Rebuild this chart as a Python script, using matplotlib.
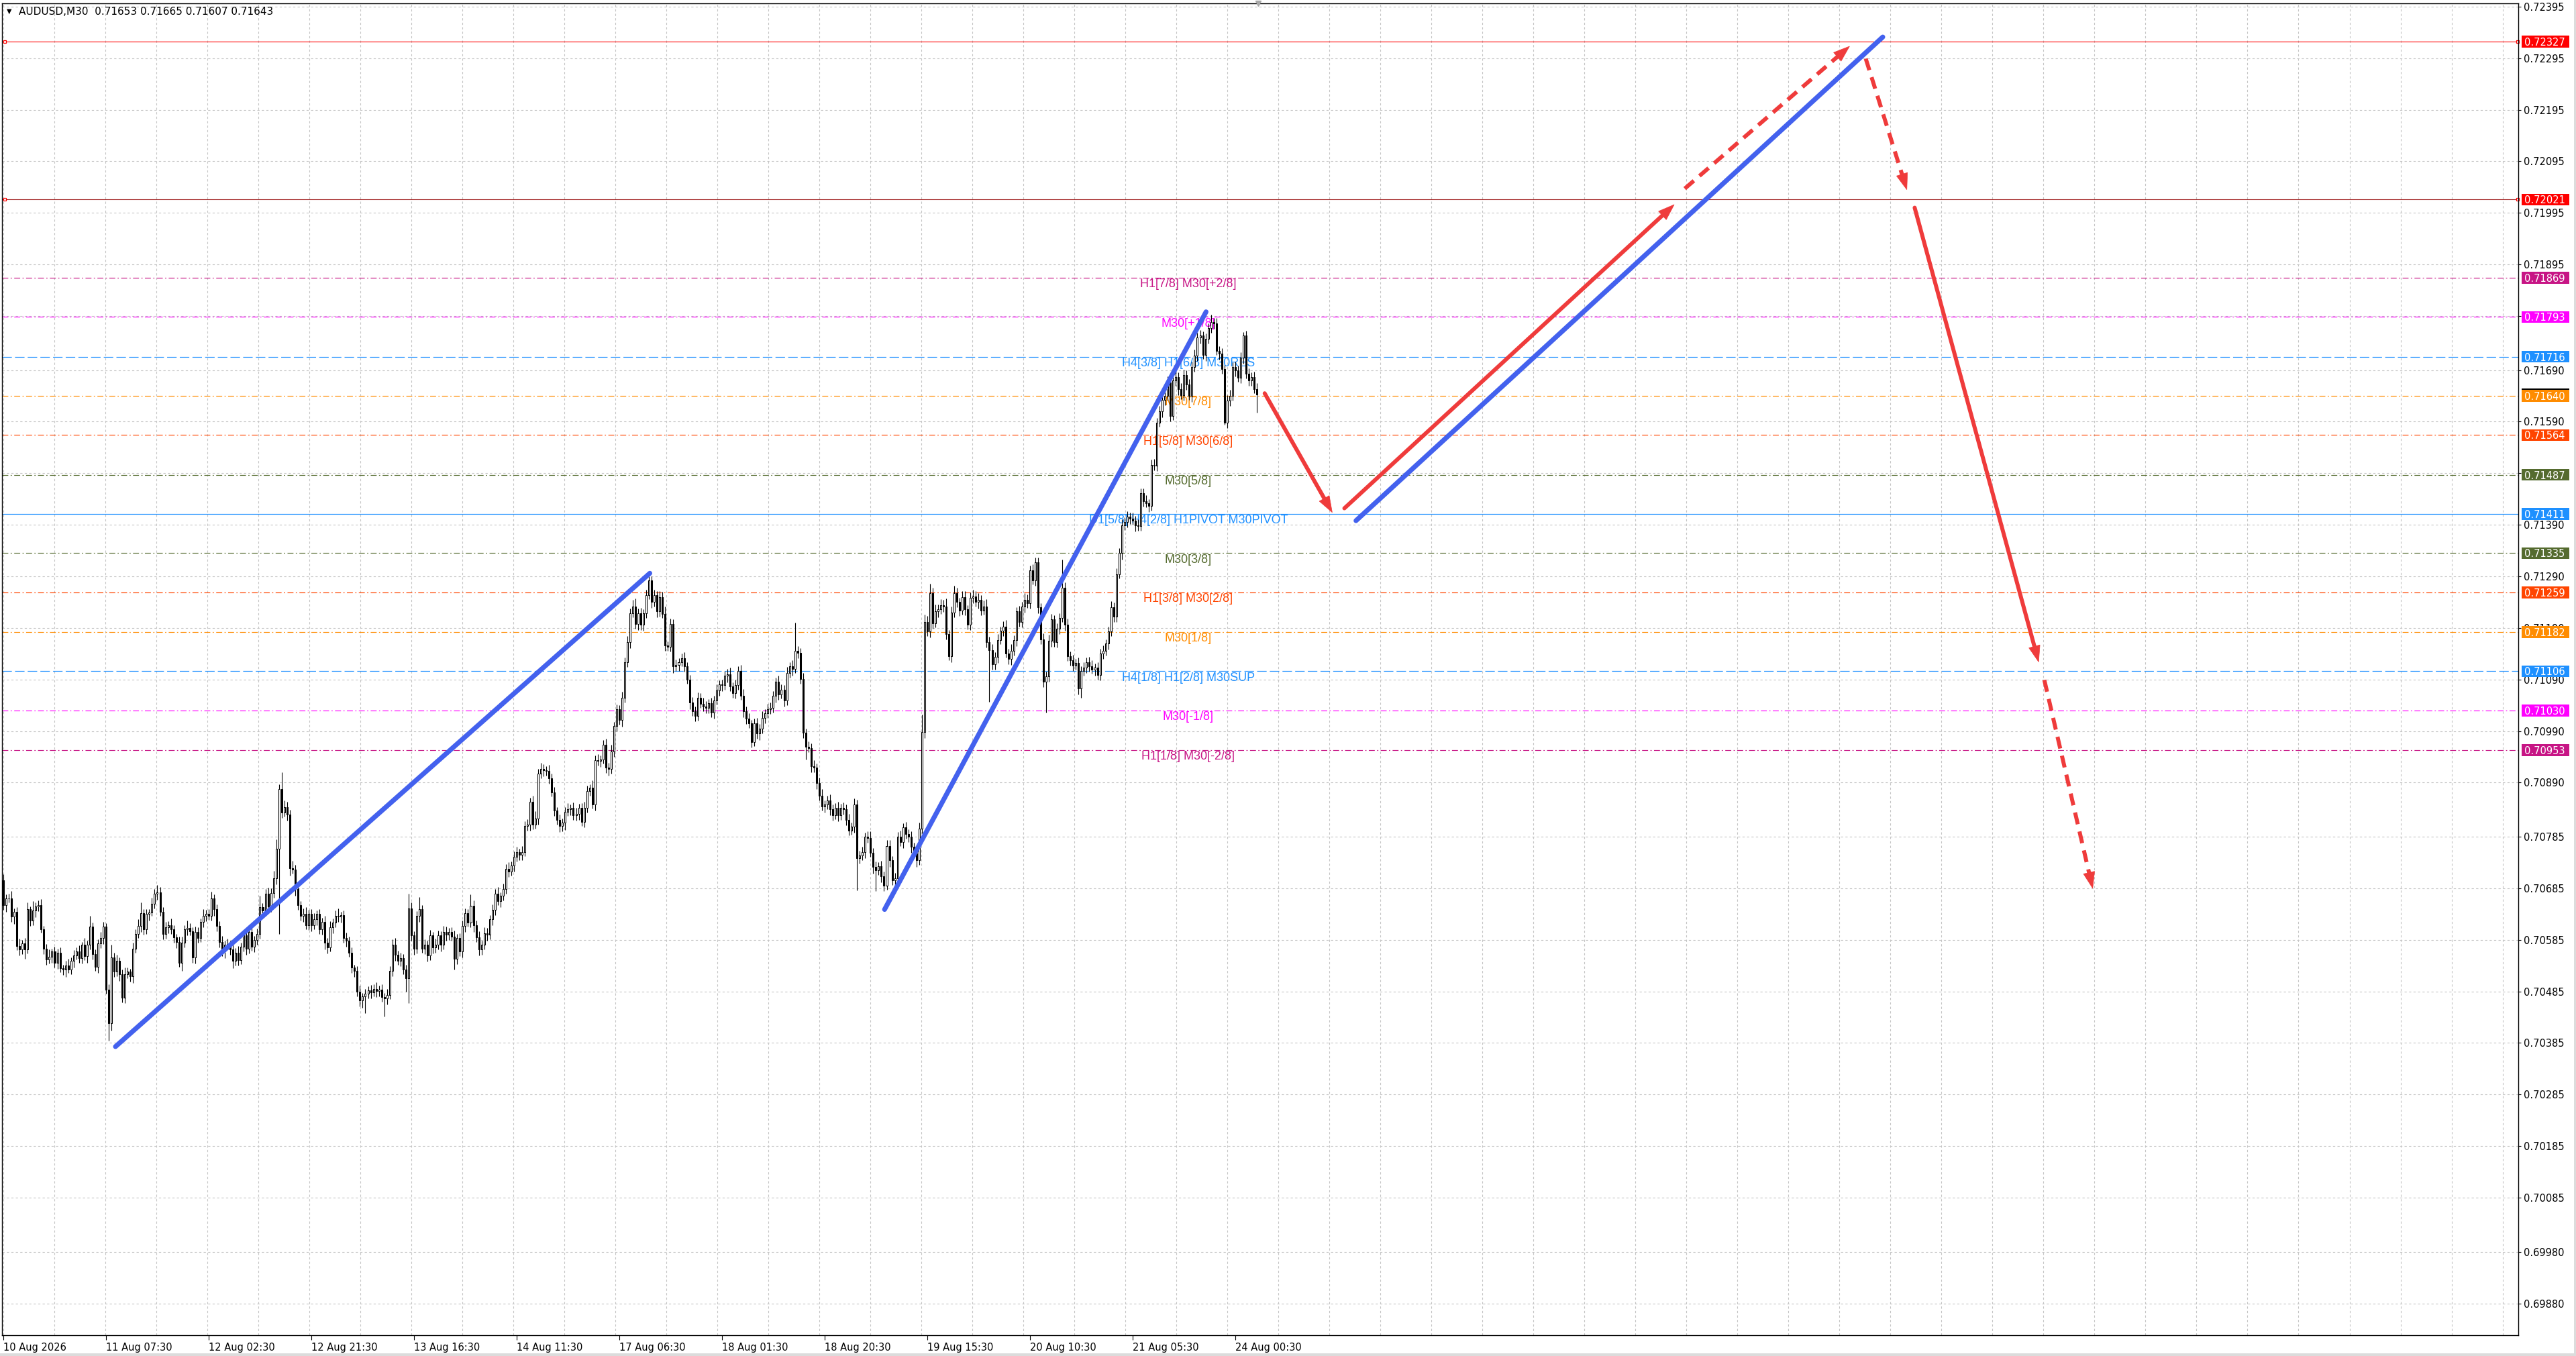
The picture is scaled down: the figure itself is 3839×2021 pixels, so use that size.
import numpy as np
import matplotlib
matplotlib.use("Agg")
import matplotlib.pyplot as plt
import matplotlib.transforms as mtransforms
from matplotlib.patches import Rectangle, Polygon

# ---------------- data ----------------
symbol_title = "AUDUSD,M30  0.71653 0.71665 0.71607 0.71643"
base_price = 0.70000
point = 0.00001
first_open_pts = 700

close_pts = [
    652, 665, 665, 630, 640, 573, 566, 578, 566, 644,
    622, 642, 650, 652, 605, 568, 547, 552, 562, 540,
    560, 530, 527, 535, 528, 544, 555, 562, 550, 575,
    553, 575, 611, 557, 533, 578, 588, 611, 488, 423,
    551, 523, 544, 518, 473, 518, 523, 514, 568, 597,
    612, 637, 605, 635, 638, 655, 674, 677, 640, 596,
    609, 614, 605, 590, 581, 540, 579, 605, 608, 602,
    551, 600, 588, 620, 631, 635, 632, 666, 644, 612,
    581, 562, 575, 577, 566, 544, 560, 546, 572, 594,
    568, 600, 572, 585, 596, 648, 642, 674, 650, 676,
    705, 762, 878, 832, 843, 828, 724, 722, 683, 653,
    631, 636, 614, 635, 614, 625, 635, 605, 620, 580,
    571, 609, 618, 632, 630, 633, 588, 583, 560, 531,
    525, 484, 467, 475, 480, 487, 483, 490, 486, 489,
    474, 471, 478, 525, 575, 556, 545, 550, 527, 510,
    646, 594, 568, 631, 644, 568, 575, 555, 594, 570,
    575, 594, 575, 601, 595, 601, 591, 548, 588, 562,
    612, 637, 619, 651, 614, 590, 566,
    575, 598, 595, 625, 643, 675, 660, 670, 684, 723,
    718, 729, 746, 755, 750, 755, 806, 809, 853, 809,
    820, 907, 916, 914, 912, 898, 871, 836, 818, 806,
    812, 833, 838, 841, 827, 830, 841, 814, 841, 874,
    880, 848, 934, 932, 935, 963, 919, 916, 951, 1000,
    1032, 1011, 1055, 1124, 1162, 1219, 1231, 1198, 1218, 1196,
    1218, 1254, 1282, 1240, 1253, 1222, 1250, 1217, 1156, 1154,
    1198, 1115, 1118, 1124, 1131, 1115, 1090, 1045, 1029, 1020,
    1055, 1043, 1038, 1035, 1044, 1026, 1049, 1069, 1080, 1079,
    1097, 1100, 1076, 1064, 1079, 1106, 1058, 1029, 1014, 1005,
    969, 1005, 985, 995, 1016, 1024, 1033, 1035, 1058, 1086,
    1061, 1070, 1049, 1103, 1115, 1110, 1145, 1142, 1091, 987,
    960, 957, 922, 919, 889, 865, 844, 847, 856, 838,
    827, 841, 827, 841, 838, 818, 797, 805, 847, 743,
    749, 755, 785, 783,
    754, 726, 720, 728, 708, 690, 767, 739, 700, 705,
    785, 775, 803, 790, 785, 765, 752, 739, 801, 988,
    1201, 1183, 1258, 1199, 1222, 1226, 1234, 1232, 1178, 1135,
    1220, 1258, 1240, 1224, 1250, 1226, 1196, 1249, 1251, 1240,
    1245, 1224, 1232, 1163, 1147, 1119, 1134, 1167, 1185, 1193,
    1140, 1130, 1145, 1166, 1222, 1201, 1232, 1245, 1238, 1302,
    1282, 1317, 1230, 1168, 1086, 1096, 1165, 1207, 1163, 1188,
    1209, 1268, 1196, 1135, 1127, 1117, 1122, 1073, 1106, 1113,
    1124, 1115, 1109, 1113, 1099, 1140, 1145, 1160, 1183, 1230,
    1212, 1294, 1335, 1389, 1395,
    1406, 1402, 1398, 1389, 1388, 1451, 1436, 1432, 1427, 1506,
    1505, 1588, 1610, 1632, 1640, 1666, 1601, 1670, 1677, 1653,
    1642, 1681, 1662, 1640, 1696, 1718, 1753, 1757, 1720, 1751,
    1772, 1783, 1781, 1727, 1722, 1692, 1588, 1631, 1640, 1696,
    1690, 1675, 1714, 1757, 1683, 1670, 1677, 1653, 1643,
]

upper_wick_pts = [
    12, 8, 10, 15, 6, 9, 14, 7, 11, 13, 6, 18, 8, 10, 12, 7, 9, 14, 6, 10,
    8, 11, 6, 9, 13, 7, 10, 8, 12, 6, 14, 9, 20, 7, 10, 8, 13, 9, 6, 11,
    25, 9, 12, 7, 10, 14, 8, 6, 11, 9, 13, 20, 8, 10, 7, 12, 9, 15, 10, 8,
    11, 7, 13, 9, 6, 10, 12, 8, 14, 9, 7, 11, 10, 6, 13, 8, 9, 12, 7, 10,
    9, 12, 8, 10, 7, 11, 9, 13, 8, 10, 6, 12, 9, 7, 11, 22, 8, 10, 12, 9,
    14, 18, 8, 32, 12, 10, 9, 14, 8, 11, 7, 10, 13, 8, 9, 12, 7, 10, 8, 11,
    9, 12, 8, 10, 14, 7, 9, 11, 8, 10, 6, 9, 12, 7, 10, 8, 11, 9, 13, 7,
    10, 8, 12, 9, 11, 14, 8, 10, 7, 9, 28, 12, 8, 10, 24, 9, 11, 8, 10, 7,
    12, 9, 8, 11, 10, 7, 9, 12, 8, 10, 11, 9, 7, 22, 10, 8, 12, 9, 11, 10,
    8, 11, 9, 12, 7, 10, 9, 13, 8, 11, 10, 7, 12, 9, 10, 8, 11, 14, 9, 12,
    10, 8, 12, 9, 11, 7, 10, 8, 9, 12, 7, 10, 11, 8, 9, 12, 10, 7, 14, 9,
    11, 8, 10, 12, 9, 13, 7, 10, 8, 11, 9, 12, 8, 14, 16, 9, 11, 8, 10, 12,
    8, 11, 9, 12, 10, 14, 8, 10, 9, 11, 7, 10, 12, 8, 9, 11, 8, 10, 9, 12,
    10, 8, 11, 9, 12, 8, 10, 9, 11, 13, 8, 10, 9, 12, 14, 8, 10, 7, 9, 11,
    9, 12, 8, 10, 11, 9, 8, 12, 10, 9, 11, 8, 13, 55, 10, 9, 11, 8, 10, 9,
    11, 8, 10, 12, 9, 8, 11, 10, 9, 12, 8, 10, 9, 11, 8, 12, 10, 9, 11, 8,
    10, 12, 9, 11, 8, 10, 9, 12, 11, 8, 10, 9, 12, 8, 11, 9, 10, 8, 12, 12,
    34, 15, 12, 18, 10, 14, 9, 12, 11, 15, 8, 12, 14, 10, 9, 12, 11, 8, 10, 13,
    10, 12, 9, 11, 14, 10, 12, 9, 11, 8, 10, 12, 9, 13, 10, 8, 11, 9, 12, 10,
    9, 12, 10, 10, 8, 11, 9, 12, 10, 8, 11, 9, 54, 10, 12, 9, 11, 8, 10, 9,
    11, 9, 10, 12, 8, 10, 9, 11, 8, 10, 12, 9, 11, 10, 12, 9, 10, 8, 11, 9,
    12, 10, 9, 11, 8, 10, 12, 9, 11, 10, 8, 12, 9, 11, 10, 8, 12, 10, 9, 11,
    10, 12, 9, 11, 8, 10, 9, 15, 8, 10, 9, 11, 8, 10, 12, 9, 11, 8, 10, 7,
    9, 11, 8, 10, 12,
]

lower_wick_pts = [
    9, 12, 7, 10, 14, 8, 11, 9, 18, 7, 10, 8, 13, 9, 6, 11, 10, 8, 12, 9,
    11, 8, 10, 14, 7, 9, 12, 8, 10, 11, 7, 13, 9, 10, 8, 12, 9, 11, 8, 34,
    14, 10, 8, 12, 9, 11, 7, 10, 13, 8, 9, 11, 10, 8, 12, 7, 9, 11, 8, 10,
    9, 11, 8, 10, 12, 7, 15, 9, 11, 8, 10, 12, 9, 7, 11, 10, 8, 9, 12, 10,
    11, 9, 12, 8, 10, 14, 9, 11, 8, 10, 12, 9, 8, 11, 10, 9, 12, 8, 10, 11,
    9, 12, 166, 10, 8, 11, 14, 9, 12, 10, 8, 11, 9, 10, 12, 8, 11, 9, 10, 14,
    12, 9, 11, 8, 10, 12, 9, 11, 8, 10, 12, 9, 11, 14, 32, 9, 11, 8, 12, 10,
    9, 35, 11, 8, 10, 12, 9, 11, 8, 26, 48, 10, 12, 9, 11, 8, 10, 12, 9, 11,
    10, 8, 12, 9, 11, 10, 8, 21, 10, 9, 11, 12, 8, 10, 14, 9, 11, 10, 8, 12,
    9, 11, 10, 8, 12, 9, 10, 11, 8, 12, 9, 10, 11, 8, 9, 12, 10, 8, 11, 9,
    12, 9, 10, 8, 11, 9, 12, 10, 14, 8, 11, 9, 10, 12, 8, 11, 9, 10, 8, 12,
    9, 11, 8, 10, 12, 9, 11, 10, 8, 12, 9, 10, 11, 8, 9, 12, 10, 11, 9, 8,
    11, 9, 12, 10, 8, 11, 9, 10, 12, 8, 11, 9, 10, 8, 12, 9, 11, 10, 8, 9,
    11, 10, 9, 12, 8, 10, 11, 9, 12, 8, 10, 11, 9, 8, 12, 10, 9, 11, 8, 10,
    12, 9, 11, 8, 10, 9, 12, 10, 8, 11, 9, 10, 12, 8, 11, 9, 10, 25, 8, 12,
    9, 11, 10, 8, 12, 9, 11, 10, 8, 12, 9, 10, 11, 9, 8, 12, 62, 10, 9, 11,
    10, 8, 12, 40, 9, 11, 10, 8, 12, 9, 11, 10, 8, 12, 9, 10, 11, 8, 12, 9,
    10, 12, 9, 11, 10, 8, 12, 9, 11, 10, 8, 12, 9, 10, 11, 8, 12, 9, 10, 11,
    9, 12, 10, 8, 11, 100, 10, 10, 12, 9, 11, 8, 10, 12, 9, 11, 8, 10, 12, 9,
    11, 8, 10, 12, 9, 11, 60, 10, 12, 9, 11, 10, 8, 12, 9, 10, 11, 8, 12, 18,
    9, 11, 10, 8, 12, 9, 11, 10, 8, 12, 9, 10, 11, 8, 12, 9, 10, 11, 8, 12,
    10, 9, 11, 8, 12, 10, 9, 11, 8, 12, 10, 9, 11, 8, 10, 12, 9, 11, 10, 8,
    12, 9, 10, 11, 8, 12, 9, 10, 11, 8, 12, 9, 4, 10, 11, 9, 12, 8, 10, 11,
    9, 11, 10, 8, 36,
]

time_labels = ["10 Aug 2026", "11 Aug 07:30", "12 Aug 02:30", "12 Aug 21:30",
               "13 Aug 16:30", "14 Aug 11:30", "17 Aug 06:30", "18 Aug 01:30",
               "18 Aug 20:30", "19 Aug 15:30", "20 Aug 10:30", "21 Aug 05:30",
               "24 Aug 00:30"]

price_ticks = [0.72395, 0.72295, 0.72195, 0.72095, 0.71995, 0.71895, 0.71795,
               0.71690, 0.71590, 0.71490, 0.71390, 0.71290, 0.71190, 0.71090,
               0.70990, 0.70890, 0.70785, 0.70685, 0.70585, 0.70485, 0.70385,
               0.70285, 0.70185, 0.70085, 0.69980, 0.69880]

level_prices = [0.71869, 0.71793, 0.71716, 0.71640, 0.71564, 0.71487, 0.71411,
                0.71335, 0.71259, 0.71182, 0.71106, 0.71030, 0.70953]
level_names = ["H1[7/8] M30[+2/8]", "M30[+1/8]", "H4[3/8] H1[6/8] M30RES",
               "M30[7/8]", "H1[5/8] M30[6/8]", "M30[5/8]",
               "D1[5/8] H4[2/8] H1PIVOT M30PIVOT", "M30[3/8]",
               "H1[3/8] M30[2/8]", "M30[1/8]", "H4[1/8] H1[2/8] M30SUP",
               "M30[-1/8]", "H1[1/8] M30[-2/8]"]

sr_prices = [0.72327, 0.72021]
current_price = 0.71643

# trend lines drawn on the chart: (bar, price) -> (bar, price)
trend_lines = [
    ((41.5, 0.70378), (239.3, 0.71296)),
    ((326.2, 0.70644), (445.2, 0.71803)),
    ((500.7, 0.71398), (695.7, 0.72336)),
]
# forecast arrows: start (bar, price), tip (bar, price), dashed?
forecast_arrows = [
    ((466.9, 0.71645), (491.9, 0.71414), False),
    ((496.4, 0.71422), (618.5, 0.72011), False),
    ((622.4, 0.72042), (683.4, 0.72318), True),
    ((689.4, 0.72294), (704.6, 0.72040), True),
    ((707.5, 0.72005), (753.4, 0.71124), False),
    ((755.5, 0.71089), (773.4, 0.70685), True),
]

# ---------------- styles / layout ----------------
level_colors = ["#C71585", "#FF00FF", "#1E90FF", "#FF8C00", "#FF4500", "#556B2F",
                "#1E90FF", "#556B2F", "#FF4500", "#FF8C00", "#1E90FF", "#FF00FF",
                "#C71585"]
DASHDOT = (0, (7.5, 3, 1.5, 3))
DASHED = (0, (12, 4))
level_styles = [DASHDOT, DASHDOT, DASHED, DASHDOT, DASHDOT, DASHDOT, "-",
                DASHDOT, DASHDOT, DASHDOT, DASHED, DASHDOT, DASHDOT]
sr_line_colors = ["#FF0000", "#A52A2A"]

plt.rcParams['font.family'] = ['DejaVu Sans']

W, H = 3839, 2021
ax_left_px, ax_right_px = 3.0, 3753.0
ax_top_px, ax_bottom_px = 4.6, 1990.0
px_per_bar = 4.026
first_bar_px = 5.0
y_top, y_bot = 0.724018, 0.698183
grid_step_bars = 18.88
bars_per_label = 38
label_bar = 438.6

fig = plt.figure(figsize=(W / 100, H / 100), dpi=100, facecolor="white")
ax = fig.add_axes([ax_left_px / W, (H - ax_bottom_px) / H,
                   (ax_right_px - ax_left_px) / W, (ax_bottom_px - ax_top_px) / H])
ax.set_facecolor("white")
ax.set_axisbelow(True)

x_lo = (ax_left_px - first_bar_px) / px_per_bar
x_hi = (ax_right_px - first_bar_px) / px_per_bar
ax.set_xlim(x_lo, x_hi)
ax.set_ylim(y_bot, y_top)

# grid
ax.set_yticks(price_ticks)
ax.set_yticklabels([f"{p:.5f}" for p in price_ticks])
ax.grid(axis='y', color="#C4C4C4", linestyle=(0, (3, 3)), linewidth=0.8)
k = 0
while k * grid_step_bars < x_hi:
    ax.axvline(k * grid_step_bars, color="#C4C4C4", linestyle=(0, (3, 3)),
               linewidth=0.8, zorder=0.5)
    k += 1

# x ticks
ax.set_xticks([i * bars_per_label for i in range(len(time_labels))])
ax.set_xticklabels(time_labels, ha='left')
ax.tick_params(axis='x', length=5, width=0.8, pad=3, labelsize=10.5)
ax.yaxis.tick_right()
ax.tick_params(axis='y', length=3, width=0.8, pad=3, labelsize=10.5)
for s in ax.spines.values():
    s.set_color("black")
    s.set_linewidth(1.0)

# level lines and their names
for p, name, col, st in zip(level_prices, level_names, level_colors, level_styles):
    ax.axhline(p, color=col, linestyle=st, linewidth=0.85, zorder=1.6)
    ax.annotate(name, xy=(label_bar, p), xytext=(0, -1.0), textcoords='offset points',
                ha='center', va='top', color=col, fontsize=13,
                family=['Liberation Sans', 'DejaVu Sans'], zorder=1.7)

blend = mtransforms.blended_transform_factory(ax.transAxes, ax.transData)
ax_w_px = ax_right_px - ax_left_px
for p, lc in zip(sr_prices, sr_line_colors):
    ax.axhline(p, color=lc, linewidth=0.8, zorder=1.6)
    ax.plot([4.0 / ax_w_px, 1 - 1.5 / ax_w_px], [p, p], linestyle='none', marker='s',
            markersize=3.5, markerfacecolor='white', markeredgecolor='#FF0000',
            markeredgewidth=0.9, transform=blend, clip_on=False, zorder=1.8)

# candles
closes = base_price + np.array(close_pts) * point
opens = np.concatenate([[base_price + first_open_pts * point], closes[:-1]])
highs = np.maximum(opens, closes) + np.array(upper_wick_pts) * point
lows = np.minimum(opens, closes) - np.array(lower_wick_pts) * point
xb = np.arange(len(closes))
ax.vlines(xb, lows, highs, color='black', linewidth=0.8, zorder=2)
bull = closes >= opens
ax.bar(xb[bull], (closes - opens)[bull], bottom=opens[bull], width=0.5,
       facecolor='white', edgecolor='black', linewidth=0.75, zorder=2.1)
ax.bar(xb[~bull], (opens - closes)[~bull], bottom=closes[~bull], width=0.5,
       facecolor='black', edgecolor='black', linewidth=0.75, zorder=2.1)

# trend lines
for (x0, y0), (x1, y1) in trend_lines:
    ax.plot([x0, x1], [y0, y1], color="#4361EE", linewidth=5.2,
            solid_capstyle='round', zorder=3)

# forecast arrows
arrow_col = "#EF3B3B"
head_len_px, head_w_px = 24.0, 17.0
inv = ax.transData.inverted()
for (x0, y0), (x1, y1), dashed in forecast_arrows:
    p0 = ax.transData.transform((x0, y0))
    p1 = ax.transData.transform((x1, y1))
    d = p1 - p0
    u = d / np.hypot(*d)
    nrm = np.array([-u[1], u[0]])
    base = p1 - u * head_len_px
    shaft_end = inv.transform(base + u * 3)
    tri = inv.transform(np.vstack([p1, base + nrm * head_w_px / 2, base - nrm * head_w_px / 2]))
    if dashed:
        ax.plot([x0, shaft_end[0]], [y0, shaft_end[1]], color=arrow_col, linewidth=4.3,
                linestyle=(0, (3.0, 1.85)), dash_capstyle='butt', zorder=3)
    else:
        ax.plot([x0, shaft_end[0]], [y0, shaft_end[1]], color=arrow_col, linewidth=4.3,
                solid_capstyle='round', zorder=3)
    ax.add_patch(Polygon(tri, closed=True, facecolor=arrow_col, edgecolor=arrow_col,
                         linewidth=0.5, zorder=3.1))

# right-side price boxes
px_per_price = (ax_bottom_px - ax_top_px) / (y_top - y_bot)
box_h = 17.4 / px_per_price
box_x0 = (3758 - ax_left_px) / ax_w_px
box_w = 71.0 / ax_w_px
text_x = (3762 - ax_left_px) / ax_w_px


def price_box(price, color, z):
    ax.add_patch(Rectangle((box_x0, price - box_h / 2), box_w, box_h, transform=blend,
                           facecolor=color, edgecolor='none', clip_on=False, zorder=z))
    ax.text(text_x, price, f"{price:.5f}", transform=blend, ha='left',
            va='center_baseline', color='white', fontsize=10.5, clip_on=False,
            zorder=z + 0.05)


price_box(current_price, "black", 5)
for p in sr_prices:
    price_box(p, "#FF0000", 6)
for p, col in zip(level_prices, level_colors):
    price_box(p, col, 6)

# chart shift marker
ax.plot([464.5], [y_top], marker='v', color='#A8A8A8', markersize=6,
        clip_on=False, zorder=6)

# title
fig.text(10 / W, 1 - 17 / H, "\u25BC", fontsize=7, va='center', ha='left', color='black')
fig.text(28.5 / W, 1 - 17 / H, symbol_title, fontsize=11, va='center', ha='left',
         color='black')

# window borders
fig.add_artist(Rectangle((0, 0), 1, 4 / H, transform=fig.transFigure,
                         facecolor='#DCDCDC', edgecolor='none'))
fig.add_artist(Rectangle((1 - 3 / W, 0), 3 / W, 1, transform=fig.transFigure,
                         facecolor='#DCDCDC', edgecolor='none'))

fig.savefig("out.png", dpi=100, facecolor="white")
